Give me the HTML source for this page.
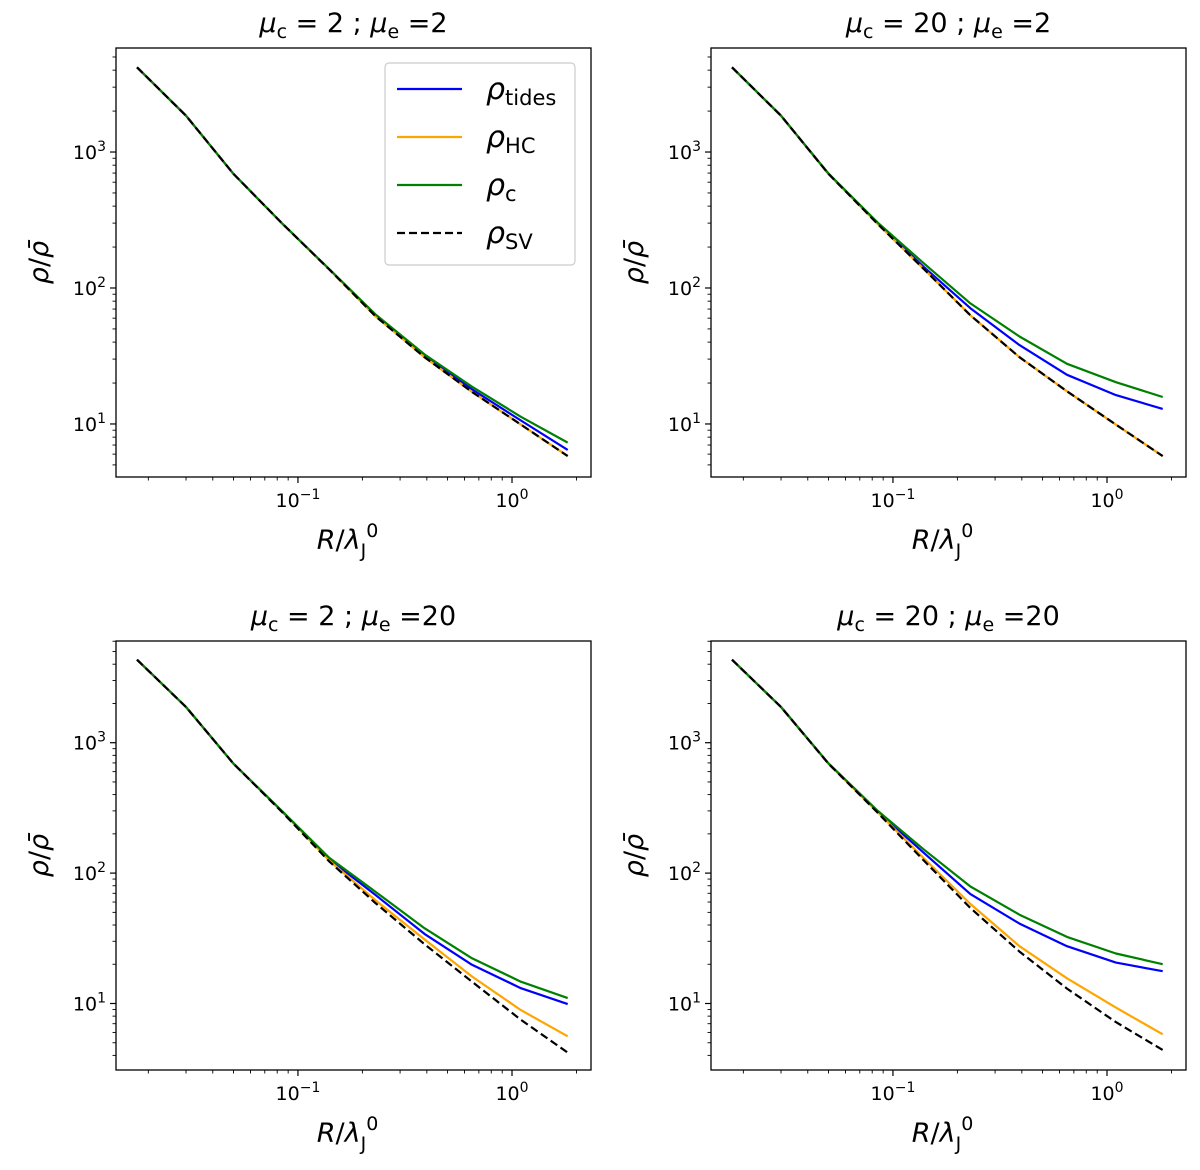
<!DOCTYPE html>
<html><head><meta charset="utf-8">
<style>
body{margin:0;background:#fff;}
svg{display:block;font-family:"DejaVu Sans","Liberation Sans",sans-serif;}
</style></head>
<body>
<svg id="fig" width="1200" height="1170" viewBox="0 0 1200 1170" xmlns="http://www.w3.org/2000/svg"></svg>
<script>
// shared x data (R / lambda_J^0)
const xVals = [0.0177, 0.03, 0.05, 0.085, 0.14, 0.23, 0.39, 0.65, 1.1, 1.82];
// panel titles
const panelMuC = ["2", "20", "2", "20"];
const panelMuE = ["2", "2", "20", "20"];
// series per panel
const tides_TL = [4200, 1850, 690, 295, 137, 63, 32, 18, 10.6, 6.45];
const hc_TL    = [4200, 1850, 690, 295, 137, 62, 31, 17.2, 9.9, 5.8];
const c_TL     = [4200, 1850, 690, 295, 138, 64, 32.5, 18.8, 11.3, 7.3];
const sv_TL    = [4200, 1850, 690, 295, 137, 62, 31, 17.2, 9.9, 5.8];

const tides_TR = [4200, 1850, 690, 297, 142, 71, 38, 23, 16.3, 12.9];
const hc_TR    = [4200, 1850, 690, 295, 137, 63, 31, 17.4, 9.9, 5.8];
const c_TR     = [4200, 1850, 695, 302, 151, 77, 44, 27.7, 20.3, 15.8];
const sv_TR    = [4200, 1850, 690, 295, 137, 63, 31, 17.4, 9.9, 5.8];

const tides_BL = [4330, 1880, 690, 293, 128, 68, 34.2, 19.8, 13.1, 9.9];
const hc_BL    = [4330, 1880, 690, 293, 125, 62, 31, 16.1, 8.9, 5.6];
const c_BL     = [4330, 1880, 690, 295, 131, 72, 37.8, 22.2, 14.7, 11];
const sv_BL    = [4330, 1880, 690, 290, 123, 59, 28.5, 14.7, 7.5, 4.2];

const tides_BR = [4330, 1880, 690, 295, 142, 69, 41, 27.5, 20.6, 17.7];
const hc_BR    = [4330, 1880, 690, 293, 129, 58, 27.5, 15.6, 9.3, 5.8];
const c_BR     = [4330, 1880, 695, 300, 151, 79, 48, 32.4, 24.2, 20];
const sv_BR    = [4330, 1880, 690, 290, 124, 54, 25, 13, 7.2, 4.4];

const yTickExps = [1, 2, 3];
const xTickExps = [-1, 0];

const NS = "http://www.w3.org/2000/svg";
const svg = document.getElementById("fig");
function mk(tag, attrs, parent){const e=document.createElementNS(NS,tag);for(const k in attrs)e.setAttribute(k,attrs[k]);(parent||svg).appendChild(e);return e;}

const panels = [
  {L:116,T:48,W:475,H:429,ylo:0.61,yhi:3.765,s:[tides_TL,hc_TL,c_TL,sv_TL],legend:true,id:"top-left"},
  {L:711,T:48,W:475,H:429,ylo:0.61,yhi:3.765,s:[tides_TR,hc_TR,c_TR,sv_TR],id:"top-right"},
  {L:116,T:641,W:475,H:429,ylo:0.49,yhi:3.78,s:[tides_BL,hc_BL,c_BL,sv_BL],id:"bottom-left"},
  {L:711,T:641,W:475,H:429,ylo:0.49,yhi:3.78,s:[tides_BR,hc_BR,c_BR,sv_BR],id:"bottom-right"}
];
const XLO=-1.85, XHI=0.369;
const colors=["#0000ff","#ffa500","#008000","#000000"];
const names=["tides","HC","c","SV"];

panels.forEach((p,pi)=>{
  const g=mk("g",{});
  
  
  const X=v=>p.L+(Math.log10(v)-XLO)/(XHI-XLO)*p.W;
  const Y=v=>p.T+p.H-(Math.log10(v)-p.ylo)/(p.yhi-p.ylo)*p.H;
  const t=mk("text",{x:p.L+p.W/2,y:p.T-16,"text-anchor":"middle","font-size":27},g);
  
  
  t.innerHTML='<tspan font-style="italic">μ</tspan><tspan font-size="19" dy="6">c</tspan><tspan dy="-6"> = '+panelMuC[pi]+' ; </tspan><tspan font-style="italic">μ</tspan><tspan font-size="19" dy="6">e</tspan><tspan dy="-6"> ='+panelMuE[pi]+'</tspan>';
  for(let e=0;e<=3;e++){for(let m=1;m<10;m++){const v=m*Math.pow(10,e);const lv=Math.log10(v);if(lv<p.ylo||lv>p.yhi)continue;const y=Y(v);
    mk("line",{x1:p.L,x2:p.L-(m===1?6:3.5),y1:y,y2:y,stroke:"#000","stroke-width":m===1?1.2:0.9},g);}}
  yTickExps.forEach(e=>{const y=Y(Math.pow(10,e));const tx=mk("text",{x:p.L-10,y:y+7,"text-anchor":"end","font-size":19},g);
    
    
    tx.innerHTML='10<tspan font-size="14" dy="-8">'+e+'</tspan>';});
  for(let e=-2;e<=0;e++){for(let m=1;m<10;m++){const v=m*Math.pow(10,e);const lv=Math.log10(v);if(lv<XLO||lv>XHI)continue;const x=X(v);
    mk("line",{x1:x,x2:x,y1:p.T+p.H,y2:p.T+p.H+(m===1?6:3.5),stroke:"#000","stroke-width":m===1?1.2:0.9},g);}}
  xTickExps.forEach(e=>{const x=X(Math.pow(10,e));const tx=mk("text",{x:x,y:p.T+p.H+30,"text-anchor":"middle","font-size":19},g);
    
    
    tx.innerHTML='10<tspan font-size="14" dy="-8">'+(e<0?'−1':'0')+'</tspan>';});
  const xl=mk("text",{x:p.L+p.W/2-6,y:p.T+p.H+72,"text-anchor":"middle","font-size":27},g);
  
  
  xl.innerHTML='<tspan font-style="italic">R</tspan>/<tspan font-style="italic">λ</tspan><tspan font-size="19" dy="8">J</tspan><tspan font-size="19" dy="-20">0</tspan>';
  const yl=mk("text",{x:0,y:0,"text-anchor":"middle","font-size":27,transform:"translate("+(p.L-68)+","+(p.T+p.H/2)+") rotate(-90)"},g);
  
  
  yl.innerHTML='<tspan font-style="italic">ρ</tspan>/<tspan font-style="italic">ρ̄</tspan>';
  [0,1,2,3].forEach(si=>{const arr=p.s[si];const d=arr.map((v,i)=>(i?"L":"M")+X(xVals[i]).toFixed(1)+","+Y(v).toFixed(1)).join(" ");
    const path=mk("path",{d:d,fill:"none",stroke:colors[si],"stroke-width":2.2,"stroke-linejoin":"round","stroke-dasharray":si===3?"8,4":"none"},g);
    
    });
  const fr=mk("rect",{x:p.L,y:p.T,width:p.W,height:p.H,fill:"none",stroke:"#000","stroke-width":1.3},g);
  
  
  if(p.legend){
    const lg=mk("g",{},g);
    
    
    mk("rect",{x:385,y:63,width:190,height:202,rx:4,fill:"#fff","fill-opacity":0.85,stroke:"#ccc","stroke-width":1.2},lg);
    const ys=[89,137,185,233];
    ys.forEach((y,i)=>{
      const en=mk("g",{},lg);
      
      
      mk("line",{x1:397,x2:462,y1:y,y2:y,stroke:colors[i],"stroke-width":2.2,"stroke-dasharray":i===3?"8,4":"none"},en);
      const tx=mk("text",{x:486,y:y+10,"font-size":30},en);
      tx.innerHTML='<tspan font-style="italic">ρ</tspan><tspan font-size="21" dy="6">'+names[i]+'</tspan>';
    });
  }
});
</script>
</body></html>
